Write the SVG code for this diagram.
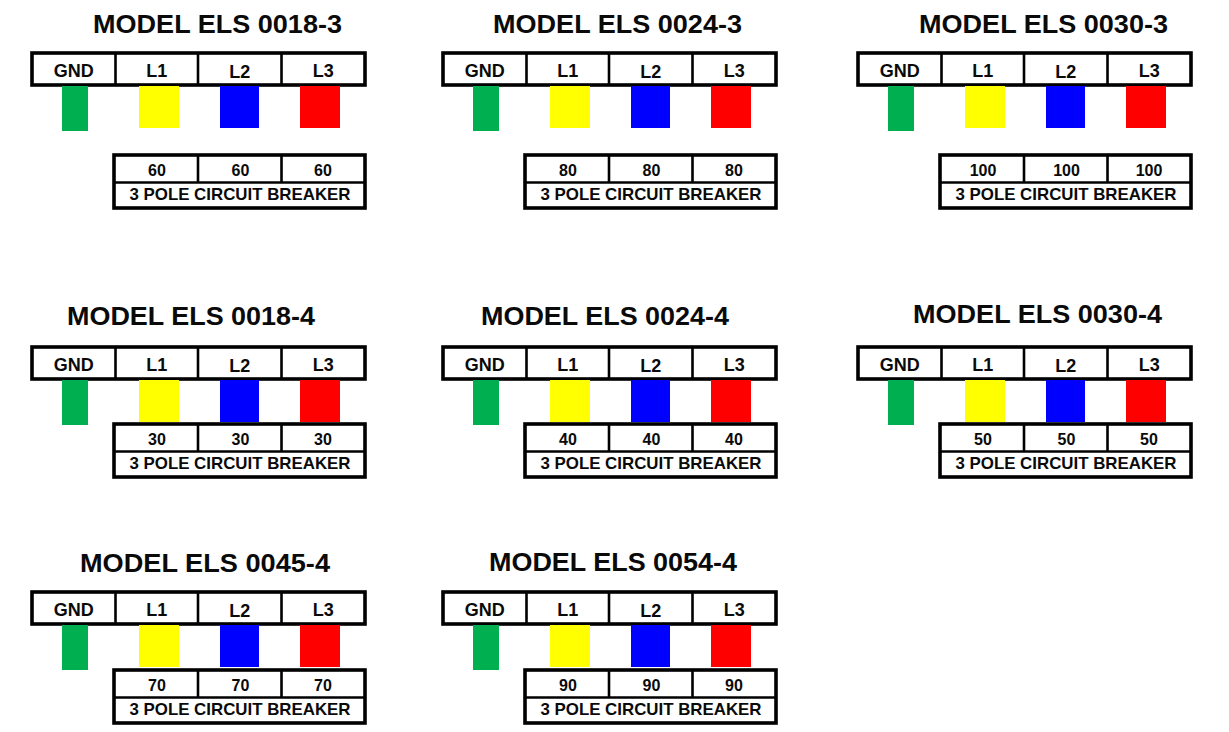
<svg xmlns="http://www.w3.org/2000/svg" width="1229" height="732" viewBox="0 0 1229 732">
<style>
.bg{fill:#ffffff}
.box{fill:#ffffff;stroke:#000000;stroke-width:3.6}
.div{stroke:#000000;stroke-width:2.6}
.gnd{fill:#00b050}
.l1{fill:#ffff00}
.l2{fill:#0000ff}
.l3{fill:#ff0000}
.title{font-family:"Liberation Sans",Arial,sans-serif;font-weight:bold;font-size:26px;fill:#0a0a0a;text-anchor:middle}
.lab{font-family:"Liberation Sans",Arial,sans-serif;font-weight:bold;font-size:18px;fill:#0a0a0a;text-anchor:middle}
.num{font-family:"Liberation Sans",Arial,sans-serif;font-weight:bold;font-size:16px;fill:#0a0a0a;text-anchor:middle}
.cb{font-family:"Liberation Sans",Arial,sans-serif;font-weight:bold;font-size:17px;fill:#0a0a0a;text-anchor:middle}
</style>
<defs>
<g id="top">
<rect class="box" x="0" y="0" width="333" height="32"/>
<line class="div" x1="83.5" y1="0" x2="83.5" y2="32"/>
<line class="div" x1="166" y1="0" x2="166" y2="32"/>
<line class="div" x1="249.5" y1="0" x2="249.5" y2="32"/>
<rect class="gnd" x="30" y="33" width="26" height="45"/>
<rect class="l1" x="107" y="33" width="40" height="42"/>
<rect class="l2" x="188" y="33" width="39" height="42"/>
<rect class="l3" x="268" y="33" width="40" height="42"/>
<text class="lab" x="41.75" y="24">GND</text>
<text class="lab" x="124.75" y="24">L1</text>
<text class="lab" x="207.75" y="24.5">L2</text>
<text class="lab" x="291.25" y="24">L3</text>
</g>
<g id="cbbox">
<rect class="box" x="82" y="0" width="251" height="53"/>
<line class="div" x1="82" y1="27.5" x2="333" y2="27.5"/>
<line class="div" x1="166" y1="0" x2="166" y2="27.5"/>
<line class="div" x1="249.5" y1="0" x2="249.5" y2="27.5"/>
<text class="cb" x="208" y="45" textLength="221" lengthAdjust="spacingAndGlyphs">3 POLE CIRCUIT BREAKER</text>
</g>
</defs>
<rect class="bg" x="0" y="0" width="1229" height="732"/>
<g id="connectors"></g>

<g id="els-0018-3" transform="translate(32,53)">
<text class="title" x="185.5" y="-20" textLength="249" lengthAdjust="spacingAndGlyphs">MODEL ELS 0018-3</text>
<use href="#top"/>
<g transform="translate(0,102)"><use href="#cbbox"/>
<text class="num" x="125" y="21">60</text><text class="num" x="208.5" y="21">60</text><text class="num" x="291" y="21">60</text></g>
</g>

<g id="els-0024-3" transform="translate(443,53)">
<text class="title" x="174.5" y="-20.5" textLength="249" lengthAdjust="spacingAndGlyphs">MODEL ELS 0024-3</text>
<use href="#top"/>
<g transform="translate(0,102)"><use href="#cbbox"/>
<text class="num" x="125" y="21">80</text><text class="num" x="208.5" y="21">80</text><text class="num" x="291" y="21">80</text></g>
</g>

<g id="els-0030-3" transform="translate(858,53)">
<text class="title" x="185.5" y="-20" textLength="249" lengthAdjust="spacingAndGlyphs">MODEL ELS 0030-3</text>
<use href="#top"/>
<g transform="translate(0,102)"><use href="#cbbox"/>
<text class="num" x="125" y="21">100</text><text class="num" x="208.5" y="21">100</text><text class="num" x="291" y="21">100</text></g>
</g>

<g id="els-0018-4" transform="translate(32,347)">
<text class="title" x="159" y="-22" textLength="248" lengthAdjust="spacingAndGlyphs">MODEL ELS 0018-4</text>
<use href="#top"/>
<g transform="translate(0,77)"><use href="#cbbox"/>
<text class="num" x="125" y="21">30</text><text class="num" x="208.5" y="21">30</text><text class="num" x="291" y="21">30</text></g>
</g>

<g id="els-0024-4" transform="translate(443,347)">
<text class="title" x="162" y="-22" textLength="248" lengthAdjust="spacingAndGlyphs">MODEL ELS 0024-4</text>
<use href="#top"/>
<g transform="translate(0,77)"><use href="#cbbox"/>
<text class="num" x="125" y="21">40</text><text class="num" x="208.5" y="21">40</text><text class="num" x="291" y="21">40</text></g>
</g>

<g id="els-0030-4" transform="translate(858,347)">
<text class="title" x="179.5" y="-24.5" textLength="249" lengthAdjust="spacingAndGlyphs">MODEL ELS 0030-4</text>
<use href="#top"/>
<g transform="translate(0,77)"><use href="#cbbox"/>
<text class="num" x="125" y="21">50</text><text class="num" x="208.5" y="21">50</text><text class="num" x="291" y="21">50</text></g>
</g>

<g id="els-0045-4" transform="translate(32,592)">
<text class="title" x="173" y="-20.5" textLength="250" lengthAdjust="spacingAndGlyphs">MODEL ELS 0045-4</text>
<use href="#top"/>
<g transform="translate(0,78)"><use href="#cbbox"/>
<text class="num" x="125" y="21">70</text><text class="num" x="208.5" y="21">70</text><text class="num" x="291" y="21">70</text></g>
</g>

<g id="els-0054-4" transform="translate(443,592)">
<text class="title" x="170" y="-21" textLength="248" lengthAdjust="spacingAndGlyphs">MODEL ELS 0054-4</text>
<use href="#top"/>
<g transform="translate(0,78)"><use href="#cbbox"/>
<text class="num" x="125" y="21">90</text><text class="num" x="208.5" y="21">90</text><text class="num" x="291" y="21">90</text></g>
</g>
</svg>
